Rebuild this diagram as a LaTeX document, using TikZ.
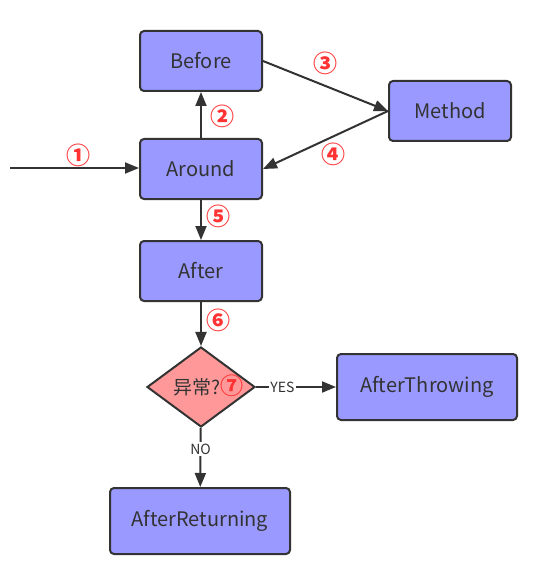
\documentclass[tikz,border=0pt]{standalone}
\usepackage{fontspec}
\usepackage{xcolor}
\setmainfont{Noto Sans CJK SC}
\newfontfamily\cjk{Noto Sans CJK SC}
\usetikzlibrary{shapes.geometric,arrows.meta,positioning}

\definecolor{boxblue}{HTML}{9999FF}
\definecolor{boxred}{HTML}{FF9999}
\definecolor{numred}{HTML}{FF3333}
\definecolor{ink}{HTML}{333333}

\tikzset{
    stepbox/.style={draw=ink, line width=2pt, fill=boxblue, rounded corners=4pt,
        minimum width=122pt, minimum height=60pt, text=ink, font=\fontsize{20}{23}\selectfont},
    checkbox/.style={draw=ink, line width=2pt, fill=boxred, diamond, aspect=1.34,
        inner sep=0pt, minimum width=108pt, minimum height=80pt},
    arr/.style={draw=ink, line width=2pt, -{Triangle[length=14pt,width=11pt]}},
    num/.style={text=numred, font=\cjk\bfseries\fontsize{24}{26}\selectfont, inner sep=0pt},
    lbl/.style={fill=white, text=ink, inner sep=1.5pt, font=\fontsize{14}{16}\selectfont}
}

\begin{document}
\begin{tikzpicture}[x=1pt, y=-1pt]
    \useasboundingbox (0,0) rectangle (539,569);

    % boxes
    \node[stepbox] (before) at (201,61) {Before};
    \node[stepbox] (around) at (201,169) {Around};
    \node[stepbox] (after) at (201,271) {After};
    \node[stepbox] (method) at (450,111) {Method};
    \node[checkbox] (check) at (201,387) {};
    \node[text=ink, font=\fontsize{19}{22}\selectfont, inner sep=0pt] (checktext) at (208,386)
        {异常?\textcolor{numred}{\bfseries\fontsize{23}{25}\selectfont ⑦}};
    \node[stepbox, minimum width=180pt, minimum height=66pt] (throwing) at (427,387) {AfterThrowing};
    \node[stepbox, minimum width=180pt, minimum height=66pt] (returning) at (200,521) {AfterReturning};
    \coordinate (start) at (10,168);

    % flow
    \draw[arr] (start) -- (start -| around.west);
    \draw[arr] (around) -- (before);
    \draw[arr] (before.east) -- (method.west);
    \draw[arr] (method.west) -- (around.east);
    \draw[arr] (around) -- (after);
    \draw[arr] (after) -- (check);
    \draw[arr] (check) -- node[lbl, pos=0.33] {YES} (throwing);
    \draw[arr] (check) -- node[lbl, pos=0.36] {NO} (returning);

    % step numbers
    \node[num] (n1) at (78,155) {①};
    \node[num] (n2) at (222,116) {②};
    \node[num] (n3) at (325,63) {③};
    \node[num] (n4) at (333,154) {④};
    \node[num] (n5) at (218,216) {⑤};
    \node[num] (n6) at (218,320) {⑥};
\end{tikzpicture}
\end{document}
